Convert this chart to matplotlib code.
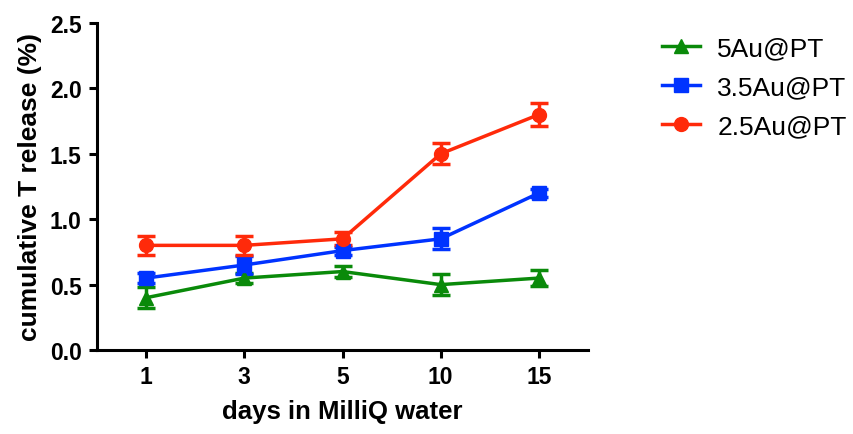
import numpy as np
import matplotlib.pyplot as plt
from matplotlib.lines import Line2D

# --- data ---
days = ["1", "3", "5", "10", "15"]

au5 = [0.40, 0.55, 0.60, 0.50, 0.55]
au5_err = [0.08, 0.04, 0.04, 0.08, 0.06]

au35 = [0.55, 0.65, 0.76, 0.85, 1.20]
au35_err = [0.04, 0.07, 0.03, 0.08, 0.03]

au25 = [0.80, 0.80, 0.85, 1.50, 1.80]
au25_err = [0.07, 0.07, 0.05, 0.08, 0.09]

series_names = ["5Au@PT", "3.5Au@PT", "2.5Au@PT"]

plt.rcParams['font.family'] = ['Liberation Sans', 'DejaVu Sans']

fig = plt.figure(figsize=(8.54, 4.35), dpi=100)
ax = fig.add_axes([0.1136, 0.193, 0.575, 0.752])

x = np.arange(len(days))
styles = [
    (au5, au5_err, "#0a8a0a", "^"),
    (au35, au35_err, "#0033ff", "s"),
    (au25, au25_err, "#ff2a0a", "o"),
]
handles = []
for (vals, err, col, mk), name in zip(styles, series_names):
    ax.errorbar(x, vals, yerr=err, color=col, marker=mk, markersize=10,
                linewidth=2.5, elinewidth=2.5, capsize=6.5, capthick=2.5)
    handles.append(Line2D([], [], color=col, marker=mk, markersize=10,
                          linewidth=2.5, label=name))

ax.set_xlim(-0.5, 4.5)
ax.set_ylim(0, 2.5)
ax.set_xticks(x)
ax.set_xticklabels(days)
ax.set_yticks(np.arange(0, 2.51, 0.5))
ax.set_yticklabels([f"{v:.1f}" for v in np.arange(0, 2.51, 0.5)])

for s in ["top", "right"]:
    ax.spines[s].set_visible(False)
for s in ["left", "bottom"]:
    ax.spines[s].set_linewidth(2.2)

ax.tick_params(direction="out", length=6, width=2.2, labelsize=16.5, pad=5)
for lab in ax.get_xticklabels() + ax.get_yticklabels():
    lab.set_fontweight("bold")

ax.set_xlabel("days in MilliQ water", fontsize=18.5, fontweight="bold", labelpad=8)
ax.set_ylabel("cumulative T release (%)", fontsize=19, fontweight="bold", labelpad=6)

ax.legend(handles=handles, loc="upper left", bbox_to_anchor=(0.769, 0.927),
          bbox_transform=fig.transFigure, frameon=False, fontsize=19,
          handlelength=1.45, labelspacing=0.58, handletextpad=0.65,
          borderaxespad=0, borderpad=0.2)

fig.savefig("out.png", dpi=100)
